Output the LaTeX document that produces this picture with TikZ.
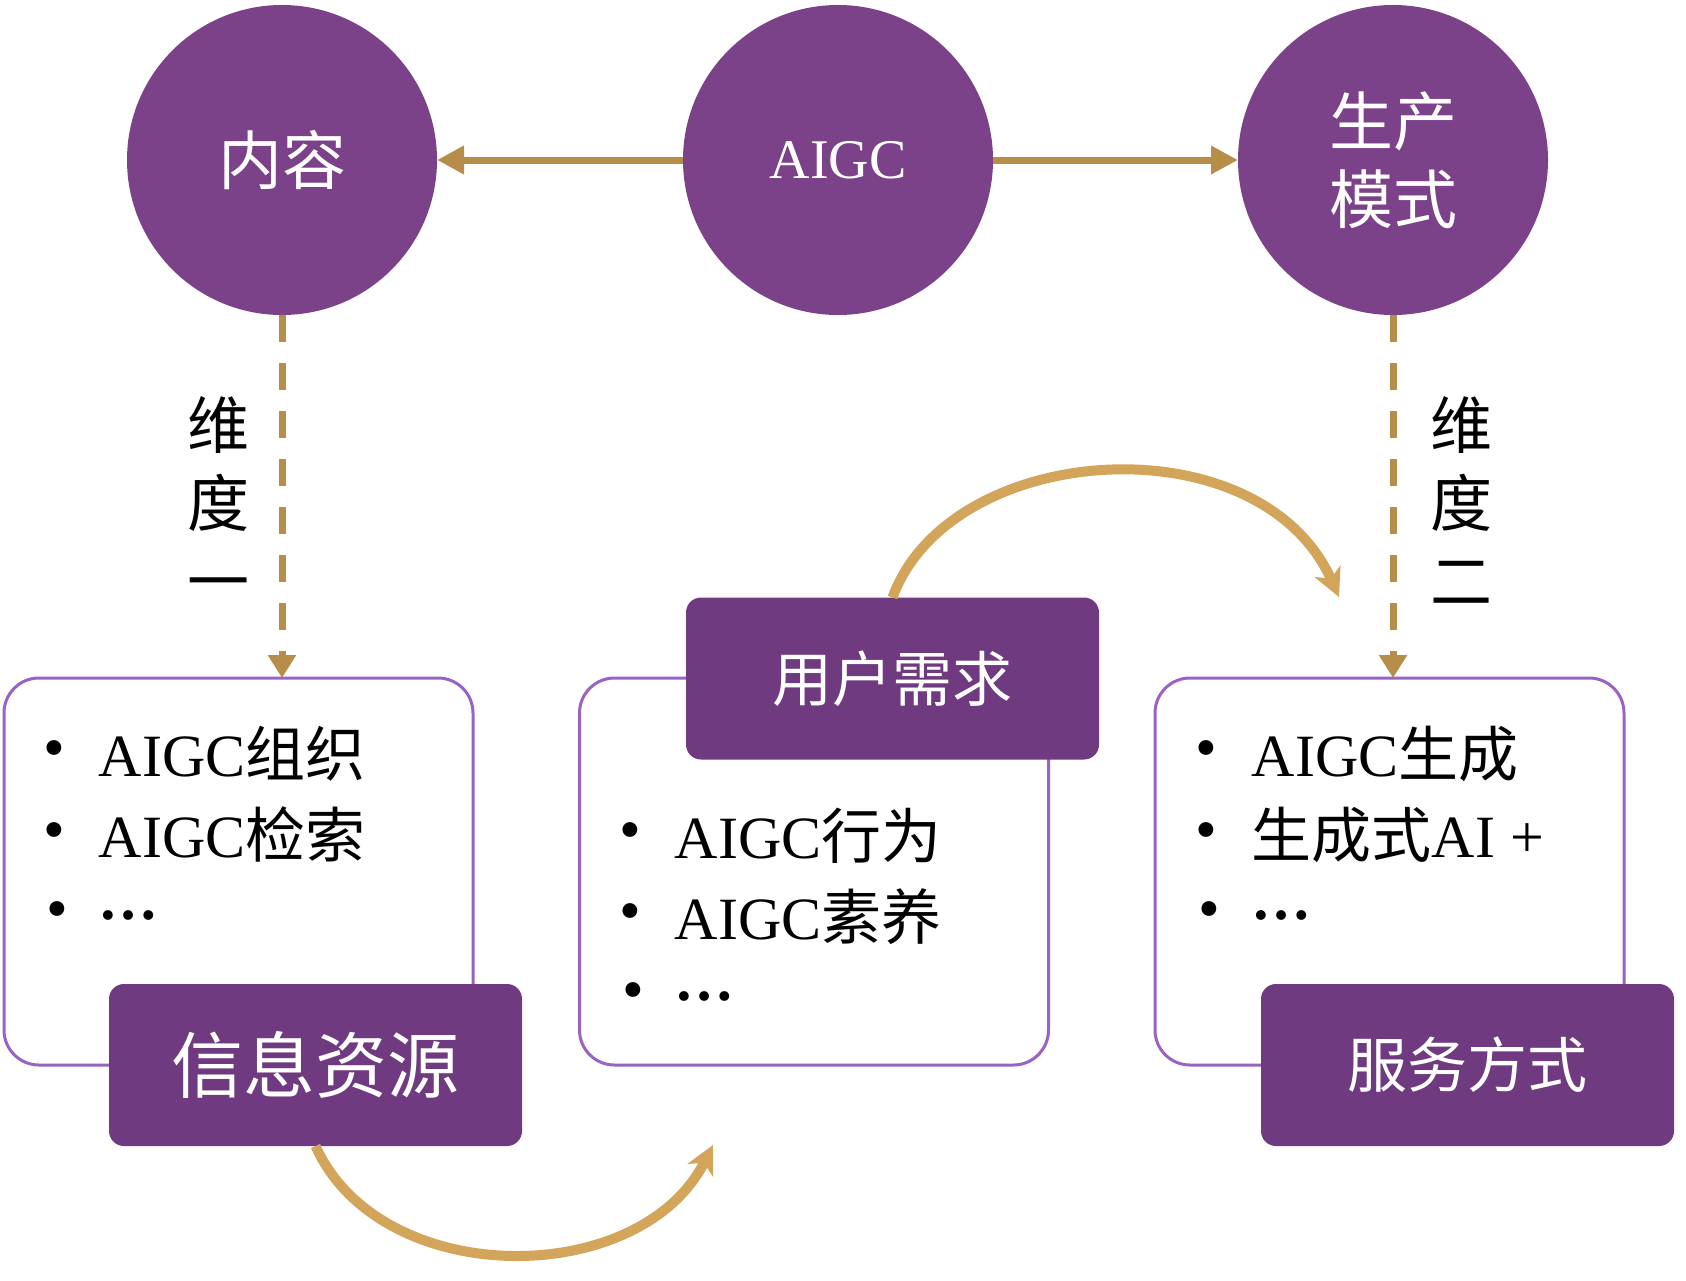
\documentclass[tikz,border=0pt]{standalone}
\usepackage{fontspec}
\setmainfont{Liberation Serif}
\newfontfamily\cjk{Noto Sans CJK SC}
\usetikzlibrary{arrows.meta}

\definecolor{circpurple}{HTML}{7B4189}
\definecolor{tagpurple}{HTML}{6F3A7F}
\definecolor{framepurple}{HTML}{9A62C2}
\definecolor{goldline}{HTML}{B78D4A}
\definecolor{goldarc}{HTML}{D3A55B}

\newcommand{\moredots}{\raisebox{9pt}{\bfseries …}}

\tikzset{every picture/.style={line width=0.75pt}}
\tikzset{
  topic/.style={circle, fill=circpurple, minimum size=155pt, inner sep=0pt, outer sep=0pt,
    text=white, align=center, font={\cjk\fontsize{32pt}{39pt}\selectfont}},
  listframe/.style={draw=framepurple, line width=1.5pt, fill=white, rounded corners=17.5pt,
    minimum width=234.5pt, minimum height=193.5pt, inner sep=0pt, outer sep=0pt},
  tagbox/.style={fill=tagpurple, rounded corners=7.5pt, minimum width=206.5pt, minimum height=81pt,
    inner sep=0pt, outer sep=0pt, text=white, font={\cjk\fontsize{30pt}{36pt}\selectfont}},
  itemtext/.style={anchor=base west, inner sep=0pt, font={\fontsize{30pt}{36pt}\selectfont}},
  bulletdot/.style={inner sep=0pt, font={\fontsize{31pt}{36pt}\selectfont}},
  dimtext/.style={inner sep=0pt, align=center, font={\cjk\fontsize{31pt}{39pt}\selectfont}},
  flowline/.style={draw=goldline, line width=3.5pt, -{Triangle[length=13.5pt,width=13.5pt]}},
  dimline/.style={draw=goldline, line width=3.5pt, dash pattern=on 13.5pt off 10.5pt,
    -{Triangle[length=11.5pt,width=13.5pt]}},
  arcline/.style={draw=goldarc, line width=5pt, -{Stealth[length=14pt,width=14pt,inset=4pt]}}
}

\begin{document}
\begin{tikzpicture}[x=0.5pt,y=0.5pt,yscale=-1,xscale=1]
\useasboundingbox (0,0) rectangle (1686,1280);

%Shape: Circle
\node[topic] (neirong) at (282,160) {内容};
%Shape: Circle
\node[topic, font={\fontsize{28pt}{34pt}\selectfont}] (aigc) at (838,160) {AIGC};
%Shape: Circle
\node[topic] (shengchan) at (1393,160) {生产\\模式};

%Straight Lines
\draw[flowline] (aigc) -- (neirong);
%Straight Lines
\draw[flowline] (aigc) -- (shengchan);

%Shape: Rounded Rect
\node[listframe] (listA) at (238.5,871.5) {};
%Shape: Rounded Rect
\node[listframe] (listB) at (814,871.5) {};
%Shape: Rounded Rect
\node[listframe] (listC) at (1389.5,871.5) {};

%Dashed Lines
\draw[dimline] (neirong.south) -- (neirong.south |- listA.north);
%Dashed Lines
\draw[dimline] (shengchan.south) -- (shengchan.south |- listC.north);

%Shape: Rounded Rect
\node[tagbox, font={\cjk\fontsize{36pt}{42pt}\selectfont}] (xinxi) at (315.5,1065) {信息资源};
%Shape: Rounded Rect
\node[tagbox] (yonghu) at (892.5,678.5) {用户需求};
%Shape: Rounded Rect
\node[tagbox] (fuwu) at (1467.5,1065) {服务方式};

%Curve Lines
\coordinate (arcendA) at (713,1145);
\draw[arcline] (xinxi.south) .. controls (380,1290) and (640,1290) .. (arcendA);
%Curve Lines
\coordinate (arcendB) at (1339,597);
\draw[arcline] (yonghu.north) .. controls (950,440) and (1260,420) .. (arcendB);

% Text Node
\node[dimtext] (dimA) at (218,501) {维\\度\\一};
% Text Node
\node[dimtext] (dimB) at (1461,501) {维\\度\\二};

% Text Node
\node[bulletdot] (dotA1) at (54,755) {•};
\node[itemtext] (itemA1) at (98,776) {AIGC{\cjk 组织}};
\node[bulletdot] (dotA2) at (54,837) {•};
\node[itemtext] (itemA2) at (98,857) {AIGC{\cjk 检索}};
\node[bulletdot] (dotA3) at (57,916) {•};
\node[itemtext] (itemA3) at (98,937) {\moredots};

% Text Node
\node[bulletdot] (dotB1) at (630,837) {•};
\node[itemtext] (itemB1) at (674,858) {AIGC{\cjk 行为}};
\node[bulletdot] (dotB2) at (630,918) {•};
\node[itemtext] (itemB2) at (674,939) {AIGC{\cjk 素养}};
\node[bulletdot] (dotB3) at (633,997) {•};
\node[itemtext] (itemB3) at (674,1018) {\moredots};

% Text Node
\node[bulletdot] (dotC1) at (1206,755) {•};
\node[itemtext] (itemC1) at (1251,776) {AIGC{\cjk 生成}};
\node[bulletdot] (dotC2) at (1206,837) {•};
\node[itemtext] (itemC2) at (1251,857) {{\cjk 生成式}AI +};
\node[bulletdot] (dotC3) at (1209,916) {•};
\node[itemtext] (itemC3) at (1251,937) {\moredots};

\end{tikzpicture}
\end{document}
